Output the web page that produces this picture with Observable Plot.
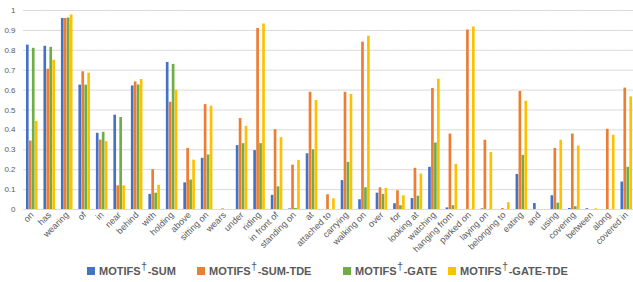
<!DOCTYPE html>
<html>
<head>
<meta charset="utf-8">
<script src="https://cdn.jsdelivr.net/npm/d3@7"></script>
<script src="https://cdn.jsdelivr.net/npm/@observablehq/plot@0.6"></script>
<style>
  html, body { margin: 0; padding: 0; background: #fff; overflow: hidden; }
  #chart { width: 633px; }
  #legend { position: relative; width: 633px; height: 22px; font-family: "Liberation Sans", Arial, sans-serif; font-weight: bold; font-size: 11px; color: #595959; }
  .item { position: absolute; top: 5px; white-space: nowrap; line-height: 12px; }
  .sw { display: inline-block; width: 8px; height: 8px; margin-right: 4px; vertical-align: 0px; }
  .dag { font-weight: normal; font-size: 11px; position: relative; top: -5px; margin: 0 0.5px; }
</style>
</head>
<body>
<div id="chart"></div>
<div id="legend"></div>
<script>
const categories = ["on","has","wearing","of","in","near","behind","with","holding","above","sitting on","wears","under","riding","in front of","standing on","at","attached to","carrying","walking on","over","for","looking at","watching","hanging from","parked on","laying on","belonging to","eating","and","using","covering","between","along","covered in"];
const series = ["MOTIFS†-SUM","MOTIFS†-SUM-TDE","MOTIFS†-GATE","MOTIFS†-GATE-TDE"];
const colors = ["#4472C4","#ED7D31","#70AD47","#FFC000"];
const sumVals = [0.826,0.82,0.96,0.625,0.383,0.474,0.621,0.076,0.739,0.134,0.257,0,0.321,0.296,0.071,0.003,0.28,0,0.145,0.049,0.082,0.029,0.055,0.212,0.008,0,0.003,0,0.176,0.03,0.069,0.005,0.004,0,0.138];
const sumTdeVals = [0.344,0.705,0.96,0.692,0.349,0.119,0.641,0.2,0.539,0.307,0.527,0.003,0.457,0.91,0.401,0.223,0.589,0.074,0.589,0.841,0.109,0.094,0.207,0.608,0.379,0.902,0.348,0.005,0.593,0,0.307,0.379,0,0.403,0.61];
const gateVals = [0.81,0.815,0.962,0.625,0.388,0.462,0.626,0.082,0.729,0.148,0.274,0,0.331,0.331,0.114,0.005,0.3,0,0.237,0.109,0.076,0.019,0.067,0.334,0.019,0,0,0,0.272,0,0.032,0.014,0,0,0.212];
const gateTdeVals = [0.443,0.75,0.978,0.685,0.341,0.119,0.653,0.121,0.6,0.248,0.519,0,0.418,0.932,0.361,0.247,0.548,0.054,0.578,0.871,0.106,0.069,0.178,0.655,0.227,0.917,0.286,0.034,0.544,0,0.348,0.319,0.004,0.373,0.566];
const yTicks = [0,0.1,0.2,0.3,0.4,0.5,0.6,0.7,0.8,0.9,1];

const allVals = [sumVals, sumTdeVals, gateVals, gateTdeVals];
const data = categories.flatMap((c, i) => series.map((s, j) => ({cat: c, s, v: allVals[j][i]})));

const chart = Plot.plot({
  width: 633,
  height: 260,
  marginTop: 10,
  marginBottom: 51,
  marginLeft: 23,
  marginRight: -2,
  style: {fontFamily: "Liberation Sans, Arial, sans-serif", fontSize: "8px", color: "#595959", background: "#fff", overflow: "visible"},
  fx: {domain: categories, padding: 0, round: false, label: null, axis: "bottom", tickRotate: -45, tickSize: 0, tickPadding: 4},
  x: {domain: series, axis: null, paddingInner: 0.1, paddingOuter: 1.0, round: false},
  y: {domain: [0, 1], ticks: yTicks, tickFormat: d => String(d), label: null, tickSize: 0, tickPadding: 8},
  color: {domain: series, range: colors},
  marks: [
    Plot.ruleY(yTicks, {stroke: "#d9d9d9", strokeWidth: 1}),
    Plot.barY(data, {fx: "cat", x: "s", y: "v", fill: "s"})
  ]
});
chart.querySelectorAll('[aria-label="fx-axis tick label"] text').forEach(t => t.style.fontSize = "9px");
document.getElementById("chart").appendChild(chart);

const legendPos = [87, 197, 343, 448];
const legend = document.getElementById("legend");
series.forEach((s, i) => {
  const item = document.createElement("div");
  item.className = "item";
  item.style.left = legendPos[i] + "px";
  const sw = document.createElement("span");
  sw.className = "sw";
  sw.style.background = colors[i];
  item.appendChild(sw);
  const parts = s.split("†");
  item.appendChild(document.createTextNode(parts[0]));
  const dag = document.createElement("span");
  dag.className = "dag";
  dag.textContent = "†";
  item.appendChild(dag);
  item.appendChild(document.createTextNode(parts[1]));
  legend.appendChild(item);
});
</script>
</body>
</html>
